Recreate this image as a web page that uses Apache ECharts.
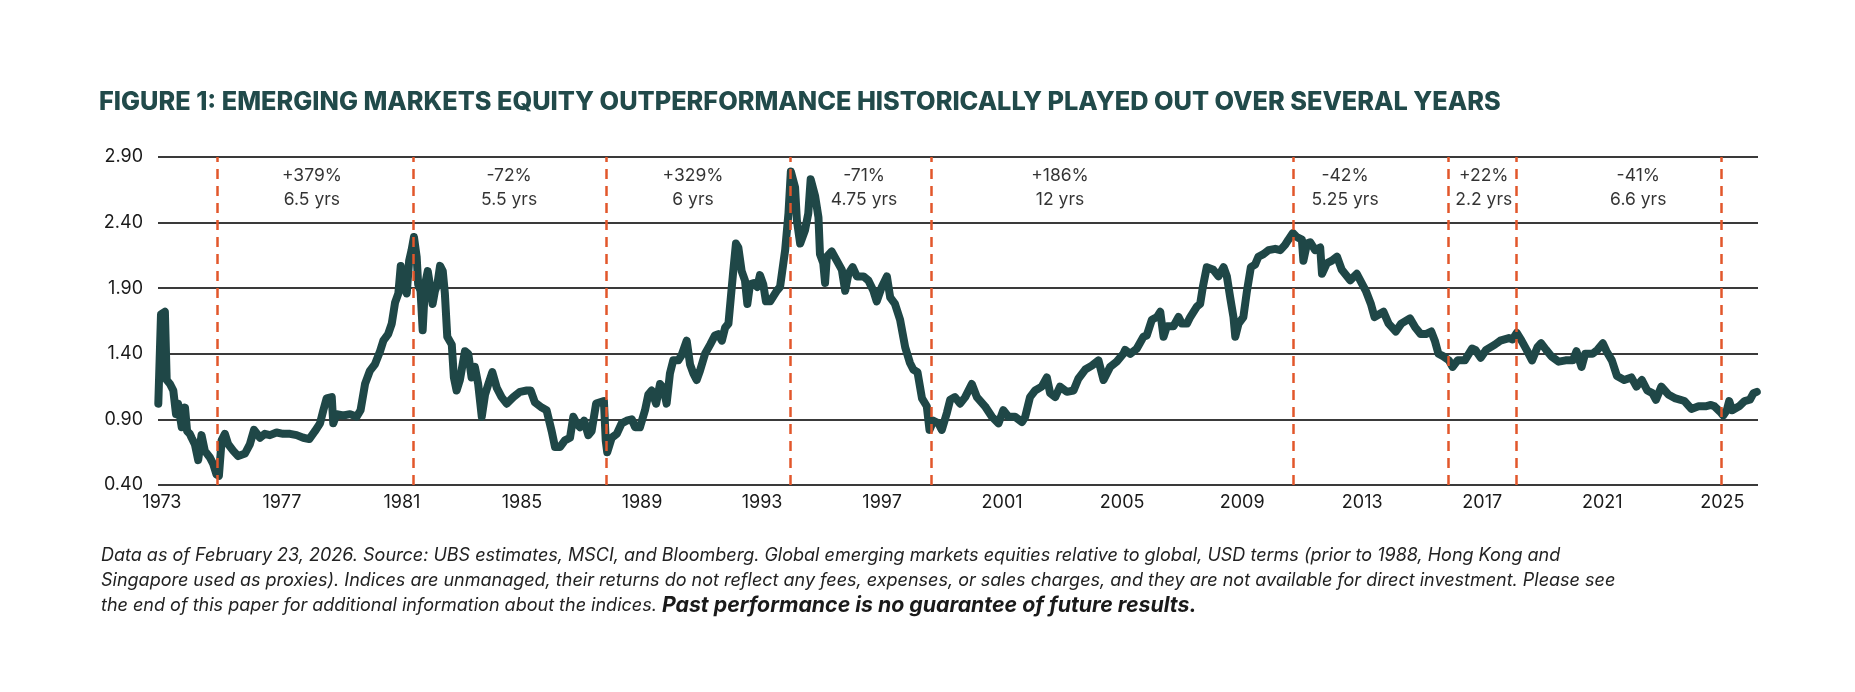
<!DOCTYPE html>
<html>
<head>
<meta charset="utf-8">
<title>Figure 1</title>
<script src="https://cdn.jsdelivr.net/npm/echarts@6.0.0/dist/echarts.min.js"></script>
<style>
    html, body { margin: 0; padding: 0; background: #fff; }
    #chart { width: 1855px; height: 692px; }
</style>
</head>
<body>
<div id="chart"></div>
<script>
// EM equities relative to global (USD)
const dates = [
    1972.88, 1972.97, 1973.10, 1973.16, 1973.27, 1973.38, 1973.47, 1973.54, 1973.66, 1973.77,
    1973.84, 1973.93, 1973.99, 1974.10, 1974.21, 1974.32, 1974.43, 1974.60, 1974.71, 1974.82,
    1974.90, 1974.99, 1975.10, 1975.21, 1975.38, 1975.54, 1975.77, 1975.93, 1976.07, 1976.27,
    1976.43, 1976.60, 1976.82, 1977.04, 1977.27, 1977.49, 1977.71, 1977.91, 1978.10, 1978.27,
    1978.38, 1978.49, 1978.66, 1978.71, 1978.82, 1979.04, 1979.27, 1979.49, 1979.62, 1979.77,
    1979.93, 1980.10, 1980.27, 1980.38, 1980.54, 1980.66, 1980.77, 1980.88, 1980.96, 1981.04,
    1981.16, 1981.24, 1981.32, 1981.40, 1981.49, 1981.54, 1981.62, 1981.69, 1981.77, 1981.86,
    1981.93, 1982.02, 1982.10, 1982.18, 1982.27, 1982.36, 1982.43, 1982.51, 1982.66, 1982.73,
    1982.82, 1982.93, 1983.10, 1983.21, 1983.32, 1983.43, 1983.54, 1983.66, 1983.77, 1983.88,
    1984.01, 1984.16, 1984.32, 1984.49, 1984.71, 1984.93, 1985.16, 1985.29, 1985.43, 1985.66,
    1985.82, 1985.99, 1986.10, 1986.27, 1986.43, 1986.60, 1986.71, 1986.82, 1986.93, 1987.07,
    1987.21, 1987.32, 1987.47, 1987.60, 1987.73, 1987.79, 1987.84, 1987.99, 1988.16, 1988.32,
    1988.49, 1988.66, 1988.77, 1988.93, 1989.10, 1989.21, 1989.32, 1989.47, 1989.60, 1989.71,
    1989.82, 1989.93, 1990.04, 1990.21, 1990.32, 1990.49, 1990.60, 1990.71, 1990.82, 1990.93,
    1991.10, 1991.27, 1991.43, 1991.54, 1991.66, 1991.77, 1991.88, 1991.96, 1992.04, 1992.13,
    1992.21, 1992.32, 1992.43, 1992.51, 1992.60, 1992.73, 1992.84, 1992.93, 1993.04, 1993.13,
    1993.27, 1993.49, 1993.60, 1993.77, 1993.88, 1993.96, 1994.10, 1994.16, 1994.27, 1994.43,
    1994.54, 1994.62, 1994.77, 1994.88, 1994.93, 1995.04, 1995.10, 1995.16, 1995.32, 1995.49,
    1995.66, 1995.77, 1995.88, 1996.02, 1996.16, 1996.38, 1996.54, 1996.71, 1996.82, 1996.99,
    1997.16, 1997.27, 1997.43, 1997.60, 1997.77, 1997.93, 1998.04, 1998.18, 1998.33, 1998.49,
    1998.58, 1998.71, 1998.88, 1998.99, 1999.16, 1999.27, 1999.43, 1999.60, 1999.77, 1999.99,
    2000.16, 2000.43, 2000.66, 2000.88, 2001.04, 2001.21, 2001.43, 2001.66, 2001.77, 2001.93,
    2002.10, 2002.32, 2002.49, 2002.60, 2002.77, 2002.93, 2003.16, 2003.38, 2003.54, 2003.77,
    2003.99, 2004.21, 2004.38, 2004.60, 2004.82, 2005.04, 2005.10, 2005.27, 2005.49, 2005.71,
    2005.82, 2005.99, 2006.16, 2006.27, 2006.38, 2006.49, 2006.71, 2006.88, 2006.99, 2007.16,
    2007.27, 2007.49, 2007.60, 2007.69, 2007.82, 2008.04, 2008.21, 2008.38, 2008.49, 2008.60,
    2008.71, 2008.77, 2008.88, 2009.04, 2009.16, 2009.29, 2009.43, 2009.54, 2009.71, 2009.88,
    2010.10, 2010.27, 2010.43, 2010.54, 2010.69, 2010.82, 2010.99, 2011.04, 2011.16, 2011.27,
    2011.43, 2011.60, 2011.66, 2011.82, 2011.99, 2012.16, 2012.32, 2012.60, 2012.82, 2013.12,
    2013.29, 2013.41, 2013.71, 2013.88, 2014.12, 2014.30, 2014.59, 2014.77, 2014.95, 2015.12,
    2015.30, 2015.42, 2015.54, 2015.71, 2015.89, 2016.01, 2016.18, 2016.42, 2016.66, 2016.77,
    2016.95, 2017.13, 2017.42, 2017.60, 2017.89, 2018.01, 2018.15, 2018.31, 2018.48, 2018.66,
    2018.84, 2018.96, 2019.13, 2019.31, 2019.55, 2019.78, 2020.02, 2020.14, 2020.31, 2020.43,
    2020.67, 2020.84, 2021.02, 2021.14, 2021.32, 2021.49, 2021.73, 2021.97, 2022.14, 2022.32,
    2022.50, 2022.67, 2022.79, 2022.97, 2023.20, 2023.44, 2023.74, 2023.97, 2024.21, 2024.44,
    2024.62, 2024.74, 2024.92, 2025.03, 2025.15, 2025.23, 2025.33, 2025.56, 2025.74, 2025.92,
    2026.04, 2026.15
]
const ratio = [
    1.02, 1.70, 1.72, 1.20, 1.17, 1.12, 0.94, 1.02, 0.84, 0.99,
    0.81, 0.79, 0.76, 0.71, 0.59, 0.78, 0.66, 0.61, 0.56, 0.48,
    0.47, 0.74, 0.79, 0.71, 0.66, 0.62, 0.64, 0.71, 0.82, 0.76,
    0.79, 0.78, 0.80, 0.79, 0.79, 0.78, 0.76, 0.75, 0.81, 0.87,
    0.97, 1.06, 1.07, 0.87, 0.94, 0.93, 0.94, 0.92, 0.97, 1.17,
    1.27, 1.32, 1.42, 1.50, 1.55, 1.63, 1.79, 1.86, 2.07, 1.93,
    1.86, 2.11, 2.19, 2.29, 2.14, 1.93, 1.88, 1.58, 1.93, 2.03,
    1.93, 1.78, 1.88, 1.93, 2.07, 2.03, 1.86, 1.53, 1.47, 1.22,
    1.12, 1.20, 1.42, 1.40, 1.22, 1.30, 1.17, 0.92, 1.09, 1.17,
    1.26, 1.14, 1.07, 1.02, 1.07, 1.11, 1.12, 1.12, 1.03, 0.99,
    0.97, 0.81, 0.69, 0.69, 0.74, 0.76, 0.92, 0.87, 0.84, 0.89,
    0.78, 0.81, 1.02, 1.03, 1.04, 0.74, 0.65, 0.76, 0.79, 0.87,
    0.89, 0.90, 0.84, 0.84, 0.97, 1.09, 1.12, 1.02, 1.17, 1.14,
    1.02, 1.25, 1.35, 1.35, 1.39, 1.50, 1.32, 1.25, 1.20, 1.27,
    1.40, 1.47, 1.54, 1.55, 1.50, 1.60, 1.63, 1.83, 2.03, 2.24,
    2.21, 2.03, 1.96, 1.78, 1.93, 1.94, 1.91, 2.00, 1.93, 1.80,
    1.80, 1.88, 1.91, 2.19, 2.47, 2.79, 2.67, 2.42, 2.24, 2.34,
    2.47, 2.73, 2.60, 2.44, 2.16, 2.09, 1.94, 2.14, 2.18, 2.11,
    2.04, 1.88, 2.01, 2.06, 1.99, 1.99, 1.96, 1.88, 1.80, 1.91,
    1.99, 1.83, 1.78, 1.66, 1.45, 1.33, 1.28, 1.26, 1.06, 1.00,
    0.82, 0.89, 0.87, 0.82, 0.95, 1.05, 1.07, 1.02, 1.07, 1.17,
    1.07, 1.00, 0.92, 0.87, 0.97, 0.92, 0.92, 0.88, 0.92, 1.07,
    1.12, 1.15, 1.22, 1.10, 1.07, 1.15, 1.11, 1.12, 1.21, 1.28,
    1.31, 1.35, 1.20, 1.30, 1.34, 1.40, 1.43, 1.40, 1.44, 1.53,
    1.54, 1.66, 1.68, 1.72, 1.53, 1.61, 1.61, 1.68, 1.63, 1.63,
    1.68, 1.76, 1.78, 1.91, 2.06, 2.04, 1.99, 2.06, 1.99, 1.83,
    1.68, 1.53, 1.63, 1.68, 1.88, 2.06, 2.08, 2.14, 2.16, 2.19,
    2.20, 2.19, 2.23, 2.27, 2.32, 2.29, 2.27, 2.11, 2.24, 2.25,
    2.19, 2.21, 2.01, 2.09, 2.11, 2.14, 2.04, 1.96, 2.01, 1.88,
    1.78, 1.68, 1.72, 1.63, 1.57, 1.63, 1.67, 1.60, 1.55, 1.55,
    1.57, 1.50, 1.40, 1.38, 1.35, 1.30, 1.35, 1.35, 1.44, 1.43,
    1.37, 1.43, 1.47, 1.50, 1.52, 1.51, 1.56, 1.50, 1.43, 1.35,
    1.45, 1.48, 1.43, 1.38, 1.34, 1.35, 1.35, 1.42, 1.30, 1.40,
    1.40, 1.43, 1.48, 1.42, 1.35, 1.23, 1.20, 1.22, 1.15, 1.20,
    1.12, 1.10, 1.05, 1.15, 1.09, 1.06, 1.04, 0.98, 1.00, 1.00,
    1.01, 1.00, 0.96, 0.93, 0.97, 1.04, 0.97, 1.00, 1.04, 1.05,
    1.10, 1.11
]

/* 周期分界 (dashed lines) */
const turns = [1974.83, 1981.37, 1987.80, 1993.93, 1998.63, 2010.70, 2015.88, 2018.12, 2024.95]

/* 周期标注 */
const periodAt = [1978.00, 1984.57, 1990.70, 1996.40, 2002.93, 2012.43, 2017.05, 2022.20]
const periodMove = ['+379%', '-72%', '+329%', '-71%', '+186%', '-42%', '+22%', '-41%']
const periodLen = ['6.5 yrs', '5.5 yrs', '6 yrs', '4.75 yrs', '12 yrs', '5.25 yrs', '2.2 yrs', '6.6 yrs']

const yearTicks = [1973, 1977, 1981, 1985, 1989, 1993, 1997, 2001, 2005, 2009, 2013, 2017, 2021, 2025]
const yTicks = { min: 0.4, max: 2.9, step: 0.5 }

const titleText = 'FIGURE 1: EMERGING MARKETS EQUITY OUTPERFORMANCE HISTORICALLY PLAYED OUT OVER SEVERAL YEARS'
const noteText = 'Data as of February 23, 2026. Source: UBS estimates, MSCI, and Bloomberg. Global emerging markets equities relative to global, USD terms (prior to 1988, Hong Kong and\n'
    + 'Singapore used as proxies). Indices are unmanaged, their returns do not reflect any fees, expenses, or sales charges, and they are not available for direct investment. Please see\n'
    + 'the end of this paper for additional information about the indices. {b|Past performance is no guarantee of future results.}'

const FONT = 'Inter, "Noto Sans", sans-serif'

const chart = echarts.init(document.getElementById('chart'), null, { renderer: 'canvas' })

chart.setOption({
    backgroundColor: '#ffffff',
    animation: false,
    title: [
        {
            text: titleText,
            left: 99,
            top: 90,
            padding: 0,
            textStyle: {
                fontFamily: FONT,
                fontSize: 25.3,
                fontWeight: 800,
                color: '#214a4a'
            }
        },
        {
            text: noteText,
            left: 101,
            top: 543,
            padding: 0,
            textStyle: {
                fontFamily: FONT,
                fontSize: 18,
                fontStyle: 'italic',
                fontWeight: 'normal',
                color: '#222222',
                lineHeight: 25,
                rich: {
                    b: {
                        fontFamily: FONT,
                        fontSize: 21.3,
                        fontStyle: 'italic',
                        fontWeight: 'bold',
                        color: '#1a1a1a',
                        lineHeight: 25
                    }
                }
            }
        }
    ],
    grid: {
        left: 158,
        right: 97,
        top: 157,
        bottom: 207,
        containLabel: false
    },
    xAxis: {
        type: 'value',
        min: 1972.87,
        max: 2026.19,
        axisLine: { show: false },
        axisTick: { show: false },
        splitLine: { show: false },
        axisLabel: {
            customValues: yearTicks,
            formatter: (v) => String(Math.round(v)),
            fontFamily: FONT,
            fontSize: 18,
            color: '#1a1a1a',
            margin: 9
        }
    },
    yAxis: {
        type: 'value',
        min: yTicks.min,
        max: yTicks.max,
        interval: yTicks.step,
        axisLine: { show: false },
        axisTick: { show: false },
        axisLabel: {
            formatter: (v) => v.toFixed(2),
            fontFamily: FONT,
            fontSize: 18,
            color: '#1a1a1a',
            margin: 15
        },
        splitLine: {
            lineStyle: { color: '#3a3a3a', width: 2 }
        }
    },
    series: [
        {
            name: 'EM vs global',
            type: 'line',
            data: dates.map((d, i) => [d, ratio[i]]),
            showSymbol: false,
            symbol: 'none',
            z: 3,
            lineStyle: {
                color: '#1f4747',
                width: 8,
                join: 'round',
                cap: 'round'
            }
        },
        {
            name: 'turns',
            type: 'line',
            data: [],
            z: 5,
            markLine: {
                silent: true,
                symbol: 'none',
                label: { show: false },
                lineStyle: {
                    color: '#e2572b',
                    width: 2.5,
                    type: [10, 7]
                },
                data: turns.map((t) => ({ xAxis: t }))
            }
        },
        {
            name: 'periods',
            type: 'scatter',
            symbolSize: 0,
            z: 6,
            data: periodAt.map((t, i) => ({ value: [t, 2.667], move: periodMove[i], len: periodLen[i] })),
            label: {
                show: true,
                position: 'inside',
                formatter: (p) => p.data.move + '\n' + p.data.len,
                fontFamily: FONT,
                fontSize: 17.5,
                lineHeight: 24,
                color: '#000000',
                align: 'center',
                verticalAlign: 'middle'
            }
        }
    ]
})
</script>
</body>
</html>
